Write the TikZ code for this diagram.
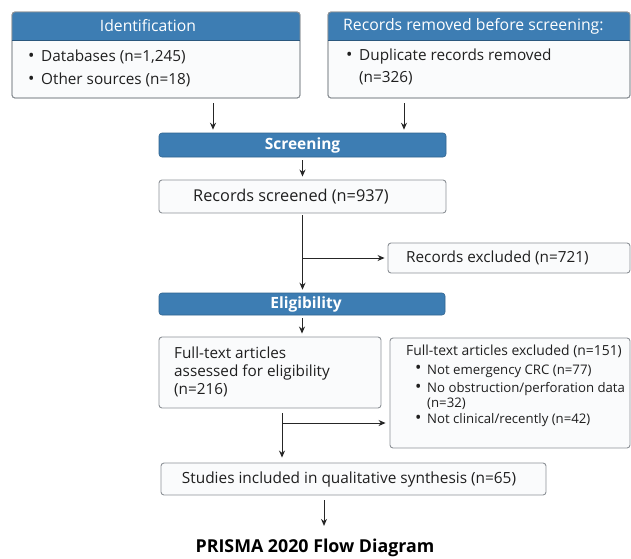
\documentclass[tikz,border=0pt]{standalone}
\usepackage{fontspec}
\setmainfont{Open Sans}
\usetikzlibrary{arrows.meta,calc}
\definecolor{hdr}{HTML}{3D7DB3}
\definecolor{bord}{HTML}{8C9196}
\definecolor{boxfill}{HTML}{FAFBFC}
\definecolor{ln}{HTML}{262626}
\newcommand\mybul[1]{\makebox[#1][l]{\raisebox{0.3pt}{\fontsize{17}{17}\selectfont\textbullet}}}
\tikzset{
  bodybox/.style={draw=bord, fill=boxfill, line width=0.9pt, rounded corners=3pt, inner sep=0pt},
  hdrbar/.style={draw=hdr!80!black, fill=hdr, line width=0.6pt, rounded corners=3pt, inner sep=0pt, text=white},
  txt/.style={inner sep=0pt, text=black!88},
  arr/.style={draw=ln, line width=1pt, -{Stealth[length=7pt,width=6pt]}},
}
\begin{document}
\begin{tikzpicture}[x=1pt,y=-1pt]
\useasboundingbox (0,0) rectangle (631,558);
% Identification box
\node[bodybox, minimum width=288pt, minimum height=86pt] (idbox) at (156,55) {};
\begin{scope}
\clip[rounded corners=3pt] (12,12) rectangle (300,98);
\fill[hdr] (12,12) rectangle (300,40);
\end{scope}
\draw[bord, line width=0.9pt, rounded corners=3pt] (12,12) rectangle (300,98);
\draw[hdr!70!black, line width=0.6pt] (12,40) -- (300,40);
\node[txt, text=white, font=\fontsize{15.7}{18}\selectfont] (idhead) at (148,26) {Identification};
\node[txt, anchor=west, font=\fontsize{15.3}{18}\selectfont] (id1) at (28,57) {\mybul{13pt}Databases (n=1,245)};
\node[txt, anchor=west, font=\fontsize{15.3}{18}\selectfont] (id2) at (28,80) {\mybul{13pt}Other sources (n=18)};
% Records removed box
\node[bodybox, minimum width=302pt, minimum height=86pt] (rmbox) at (479,55) {};
\begin{scope}
\clip[rounded corners=3pt] (328,12) rectangle (630,98);
\fill[hdr] (328,12) rectangle (630,40);
\end{scope}
\draw[bord, line width=0.9pt, rounded corners=3pt] (328,12) rectangle (630,98);
\draw[hdr!70!black, line width=0.6pt] (328,40) -- (630,40);
\node[txt, text=white, anchor=west, font=\fontsize{15.8}{18}\selectfont] (rmhead) at (343,26) {Records removed before screening:};
\node[txt, anchor=west, font=\fontsize{15.3}{18}\selectfont] (rm1) at (346,57) {\mybul{13pt}Duplicate records removed};
\node[txt, anchor=west, font=\fontsize{15.3}{18}\selectfont] (rm2) at (359,78) {(n=326)};
% Screening bar
\node[hdrbar, minimum width=287pt, minimum height=24pt, font=\bfseries\fontsize{15.5}{18}\selectfont] (scr) at (302.5,145) {Screening};
% Records screened
\node[bodybox, minimum width=287pt, minimum height=33pt] (screened) at (302.5,196.5) {};
\node[txt, font=\fontsize{16.3}{19}\selectfont] (screenedt) at (291,197) {Records screened (n=937)};
% Records excluded
\node[bodybox, minimum width=242pt, minimum height=30pt] (excl1) at (509,258) {};
\node[txt, anchor=west, font=\fontsize{15.3}{18}\selectfont] (excl1t) at (406,258) {Records excluded (n=721)};
% Eligibility bar
\node[hdrbar, minimum width=286pt, minimum height=22pt, font=\bfseries\fontsize{15.5}{18}\selectfont] (elig) at (302,304) {\hspace{8pt}Eligibility};
% Full-text assessed
\node[bodybox, minimum width=222pt, minimum height=71pt] (assess) at (270,372.5) {};
\node[txt, anchor=west, align=left, font=\fontsize{15.3}{18}\selectfont] (assesst) at (174,372)
  {Full-text articles\\assessed for eligibility\\(n=216)};
% Full-text excluded
\node[bodybox, minimum width=240pt, minimum height=110pt] (excl2) at (510,393) {};
\node[txt, anchor=west, font=\fontsize{13.9}{16}\selectfont] (excl2h) at (406,351) {Full-text articles excluded (n=151)};
\node[txt, anchor=west, font=\fontsize{13.2}{16}\selectfont] (e1) at (415,371) {\mybul{12pt}Not emergency CRC (n=77)};
\node[txt, anchor=west, font=\fontsize{13.2}{16}\selectfont] (e2) at (415,389) {\mybul{12pt}No obstruction/perforation data};
\node[txt, anchor=west, font=\fontsize{13.2}{16}\selectfont] (e3) at (427,404) {(n=32)};
\node[txt, anchor=west, font=\fontsize{13.2}{16}\selectfont] (e4) at (415,420) {\mybul{12pt}Not clinical/recently (n=42)};
% Studies included
\node[bodybox, minimum width=385pt, minimum height=32pt] (studies) at (353.5,479) {};
\node[txt, font=\fontsize{15.4}{18}\selectfont] (studiest) at (349,479) {Studies included in qualitative synthesis (n=65)};
% Title
\node[txt, font=\bfseries\fontsize{17.8}{20}\selectfont, text=black] (title) at (315,548) {PRISMA 2020 Flow Diagram};
% Connectors
\draw[arr, shorten <=5pt, shorten >=3pt] ([xshift=57pt]idbox.south) -- ([xshift=57pt]idbox.south |- scr.north);
\draw[arr, shorten <=5pt, shorten >=3pt] ([xshift=-75pt]rmbox.south) -- ([xshift=-75pt]rmbox.south |- scr.north);
\draw[arr, shorten <=3pt, shorten >=3pt] (scr.south) -- (screened.north);
\coordinate (b1) at ([xshift=0.5pt]screened.south |- excl1.west);
\draw[arr, shorten <=2pt, shorten >=3pt] (screened.south) -- (screened.south |- elig.north);
\draw[arr, shorten >=3pt] (b1) -- (excl1.west);
\draw[arr, shorten <=3pt, shorten >=3pt] (elig.south) -- (elig.south |- assess.north);
\coordinate (a0) at ([xshift=12pt]assess.south);
\coordinate (b2) at (a0 |- 0,423);
\draw[arr, shorten <=5pt, shorten >=5pt] (a0) -- (a0 |- studies.north);
\draw[arr, shorten >=4pt] (b2) -- (b2 -| excl2.west);
\draw[arr, shorten <=5pt, shorten >=13pt] ([xshift=-29.5pt]studies.south) -- ([xshift=-29.5pt]studies.south |- title.north);
\end{tikzpicture}
\end{document}
